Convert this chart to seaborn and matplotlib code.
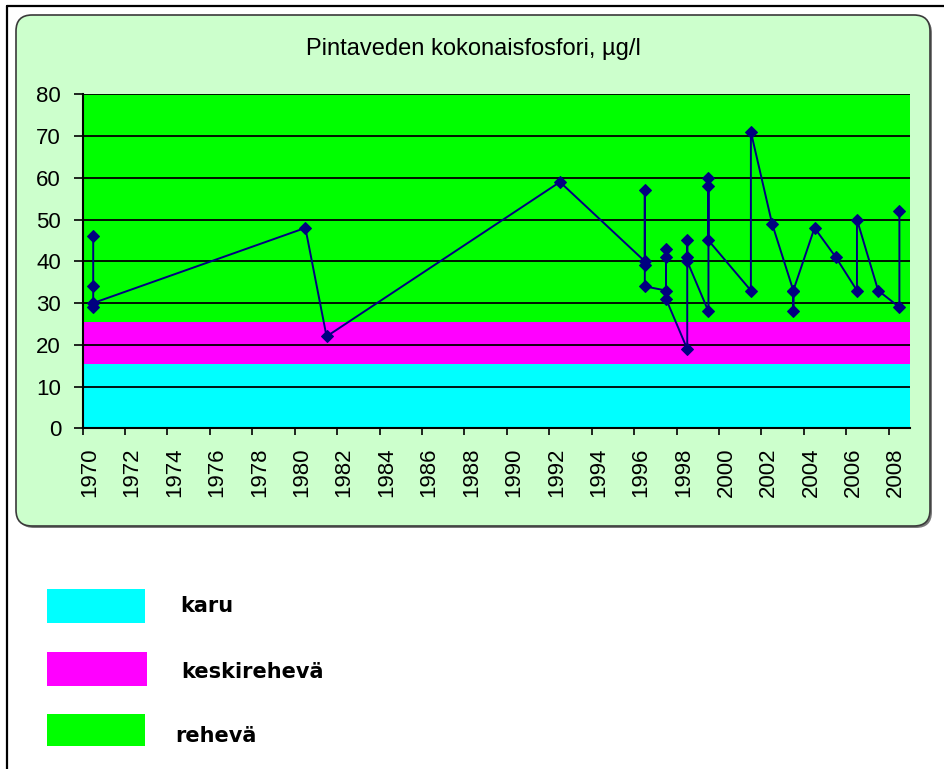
import numpy as np
import pandas as pd
import matplotlib
matplotlib.use('Agg')
import matplotlib.pyplot as plt
import matplotlib.transforms as mtransforms
from matplotlib.patches import FancyBboxPatch, Rectangle
from matplotlib.lines import Line2D
import seaborn as sns

# samples in the order of the original series (Excel date axis, base unit = year)
years = [1970, 1970, 1970, 1970, 1980, 1981, 1992,
         1996, 1996, 1996, 1996, 1997, 1997, 1997, 1997,
         1998, 1998, 1998, 1998, 1999, 1999, 1999, 1999,
         2001, 2001, 2002, 2003, 2003, 2003, 2004, 2005,
         2006, 2006, 2007, 2008, 2008]
phosphorus = [46, 34, 29, 30, 48, 22, 59,
              40, 57, 39, 34, 33, 43, 41, 31,
              19, 45, 41, 40, 28, 60, 58, 45,
              33, 71, 49, 33, 28, 33, 48, 41,
              33, 50, 33, 29, 52]

class_names = ['karu', 'keskirehevä', 'rehevä']
class_limits = [0, 15.5, 25.5, 80]
class_colors = ['#00FFFF', '#FF00FF', '#00FF00']

year_ticks = list(range(1970, 2009, 2))
value_ticks = list(range(0, 81, 10))
title = 'Pintaveden kokonaisfosfori, µg/l'

sns.set_style('ticks')
plt.rcParams['font.family'] = ['Liberation Sans', 'DejaVu Sans']
plt.rcParams['text.color'] = 'black'
plt.rcParams['xtick.color'] = 'black'
plt.rcParams['ytick.color'] = 'black'
plt.rcParams['xtick.labelcolor'] = 'black'
plt.rcParams['ytick.labelcolor'] = 'black'

W, H = 945, 769
fig = plt.figure(figsize=(W / 100, H / 100), dpi=100)
fig.patch.set_facecolor('white')
px = mtransforms.IdentityTransform()

# outer page border (left + top)
fig.add_artist(Line2D([7, 7], [0, H - 6], transform=px, color='black', lw=1.6, zorder=-3))
fig.add_artist(Line2D([7, W], [H - 6, H - 6], transform=px, color='black', lw=1.6, zorder=-3))

# light green chart area with rounded corners and a small shadow
shadow = FancyBboxPatch((18, H - 528), 914, 511, boxstyle='round,pad=0,rounding_size=16',
                        transform=px, fc='#7a7a7a', ec='none', zorder=-2)
frame = FancyBboxPatch((16, H - 526), 914, 511, boxstyle='round,pad=0,rounding_size=16',
                       transform=px, fc='#CCFFCC', ec='#3a3a3a', lw=1.2, zorder=-1)
fig.patches.extend([shadow, frame])

fig.text(473.7 / W, 1 - 49 / H, title, ha='center', va='center', fontsize=17, color='black')

ax = fig.add_axes([82.6 / W, 1 - 428.3 / H, (910 - 82.6) / W, (428.3 - 94.3) / H])
ax.set_facecolor('none')

for lo, hi, col in zip(class_limits[:-1], class_limits[1:], class_colors):
    ax.axhspan(lo, hi, color=col, lw=0, zorder=0.2)

df = pd.DataFrame({'x': np.array(years) + 0.5, 'tp': phosphorus})
sns.lineplot(data=df, x='x', y='tp', estimator=None, sort=False, ax=ax,
             color='#000080', lw=1.4, marker='D', markersize=6.5,
             markeredgecolor='#000080', zorder=5)

ax.set_xlim(1970, 2009)
ax.set_ylim(0, 80)
ax.set_xticks(year_ticks)
ax.set_xticklabels([str(y) for y in year_ticks], rotation=90, fontsize=16)
ax.set_yticks(value_ticks)
ax.set_yticklabels([str(v) for v in value_ticks], fontsize=16)
ax.set_xlabel('')
ax.set_ylabel('')
ax.set_axisbelow(True)
ax.grid(axis='y', color='black', lw=1.3)
ax.grid(axis='x', visible=False)
ax.tick_params(axis='y', length=6.5, width=1.2, pad=9, color='black')
ax.tick_params(axis='x', length=5, width=1.2, pad=9, color='black')

shift = mtransforms.ScaledTranslation(7 / 100, 0, fig.dpi_scale_trans)
for lab in ax.get_xticklabels():
    lab.set_transform(lab.get_transform() + shift)

for side in ['top', 'right']:
    ax.spines[side].set_visible(False)
for side in ['left', 'bottom']:
    ax.spines[side].set_color('black')
    ax.spines[side].set_linewidth(1.5)

# class legend below the chart
legend_boxes = [(47, 589, 98, 34), (47, 652, 100, 34), (47, 714, 98, 32)]
legend_text = [(180, 606), (181, 672), (175, 736)]
for (x0, y0, w, h), (tx, ty), name, col in zip(legend_boxes, legend_text, class_names, class_colors):
    fig.patches.append(Rectangle((x0, H - y0 - h), w, h, transform=px, fc=col, ec='none'))
    fig.text(tx / W, 1 - ty / H, name, ha='left', va='center', fontsize=15,
             fontweight='bold', family=['DejaVu Sans'], color='black')

fig.savefig('out.png', dpi=100)
